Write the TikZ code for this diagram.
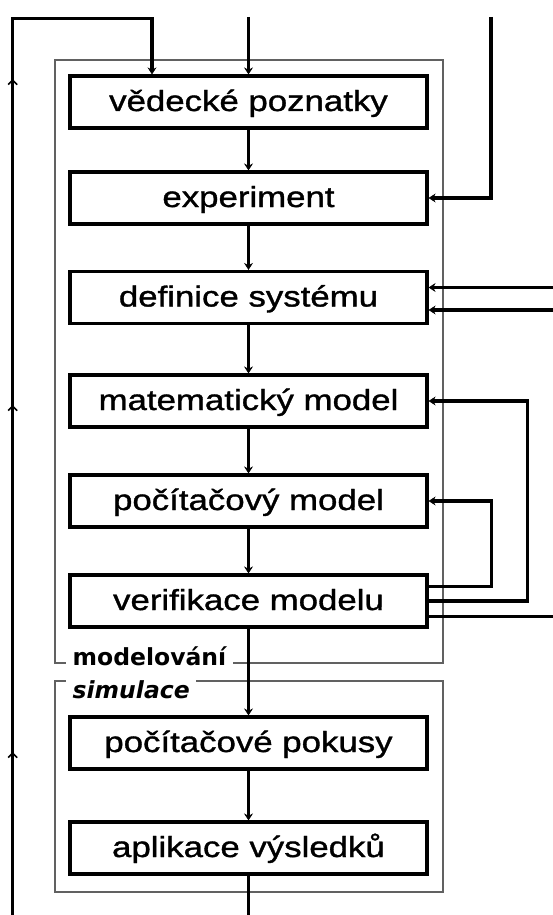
\documentclass[tikz,border=0pt]{standalone}
\usepackage{fontspec}
\usetikzlibrary{arrows.meta,decorations.markings}
\newfontfamily\boxfont{Liberation Sans}[FakeStretch=1.2,FakeBold=1.2]
\newfontfamily\tagfont{DejaVu Sans}[BoldFont={DejaVu Sans Bold},BoldItalicFont={DejaVu Sans Bold Oblique},ItalicFont={DejaVu Sans Oblique}]
\tikzset{
  stage/.style={draw=black, line width=3.2pt, fill=white,
    minimum width=357pt, minimum height=52pt, inner sep=2pt,
    text height=24pt, text depth=6pt,
    font=\boxfont\fontsize{29}{32}\selectfont},
  link/.style={line width=3.2pt},
  headtip/.tip={Stealth[length=7pt,width=9pt,inset=2.5pt,line width=0.6pt]},
  flow/.style={link, -headtip},
  frame/.style={draw=black!62, line width=1.3pt},
  tag/.style={fill=white, inner xsep=6.5pt, inner ysep=2pt, anchor=base west},
  tagfnt/.style={font=\tagfont\bfseries\fontsize{23.5}{26}\selectfont},
  barb/.tip={Straight Barb[length=4.5pt,width=9pt,line width=1.6pt]},
}
\begin{document}
\begin{tikzpicture}[x=1pt,y=-1pt]
\useasboundingbox (0,0) rectangle (553,915);

% grouping frames
\draw[frame] (55,60) rectangle (443,663);
\draw[frame] (55,681) rectangle (443,892);
\node[tag, tagfnt] (lmod) at (66,665) {modelování};
\node[tag, font=\tagfont\bfseries\itshape\fontsize{23.5}{26}\selectfont] (lsim) at (66,698) {simulace};

% stages
\node[stage] (vp)  at (248.5,102)   {vědecké poznatky};
\node[stage] (exp) at (248.5,198)   {experiment};
\node[stage] (def) at (248.5,297.5) {definice systému};
\node[stage] (mat) at (248.5,401)   {matematický model};
\node[stage] (pm)  at (248.5,501)   {počítačový model};
\node[stage] (ver) at (248.5,601)   {verifikace modelu};
\node[stage] (pok) at (248.5,743)   {počítačové pokusy};
\node[stage] (apl) at (248.5,848)   {aplikace výsledků};

% main chain
\draw[flow] (vp) -- (exp);
\draw[flow] (exp) -- (def);
\draw[flow] (def) -- (mat);
\draw[flow] (mat) -- (pm);
\draw[flow] (pm) -- (ver);
\draw[flow] (ver) -- (pok);
\draw[flow] (pok) -- (apl);
\coordinate (outB) at (248.5,915);
\draw[link] (apl) -- (outB);

% inputs from the top
\coordinate (topM) at (248.5,17);
\draw[flow] (topM) -- (vp);
\coordinate (topR) at (491,17);
\draw[flow] (topR) |- (exp.east);

% long feedback loop on the left
\coordinate (loopA) at (12.7,915);
\coordinate (loopB) at (12.7,18.5);
\coordinate (loopC) at (152,18.5);
\draw[flow, postaction={decorate}, decoration={markings,
    mark=at position 163pt with {\arrow{barb}},
    mark=at position 510pt with {\arrow{barb}},
    mark=at position 836pt with {\arrow{barb}}}]
  (loopA) -- (loopB) -- (loopC) -- (loopC |- vp.north);

% inputs into the system definition
\coordinate (inD1) at (553,287.5);
\coordinate (inD2) at (553,310);
\draw[flow] (inD1) -- (inD1 -| def.east);
\draw[flow] (inD2) -- (inD2 -| def.east);

% feedback from verification
\coordinate (colP) at (491.7,0);
\coordinate (colM) at (527.7,0);
\draw[flow] ([yshift=14.3pt]ver.east) -| (colP |- pm.east) -- (pm.east);
\draw[flow] (ver.east) -| (colM |- mat.east) -- (mat.east);
\coordinate (outR) at (553,616.7);
\draw[link] (outR -| ver.east) -- (outR);
\end{tikzpicture}
\end{document}
